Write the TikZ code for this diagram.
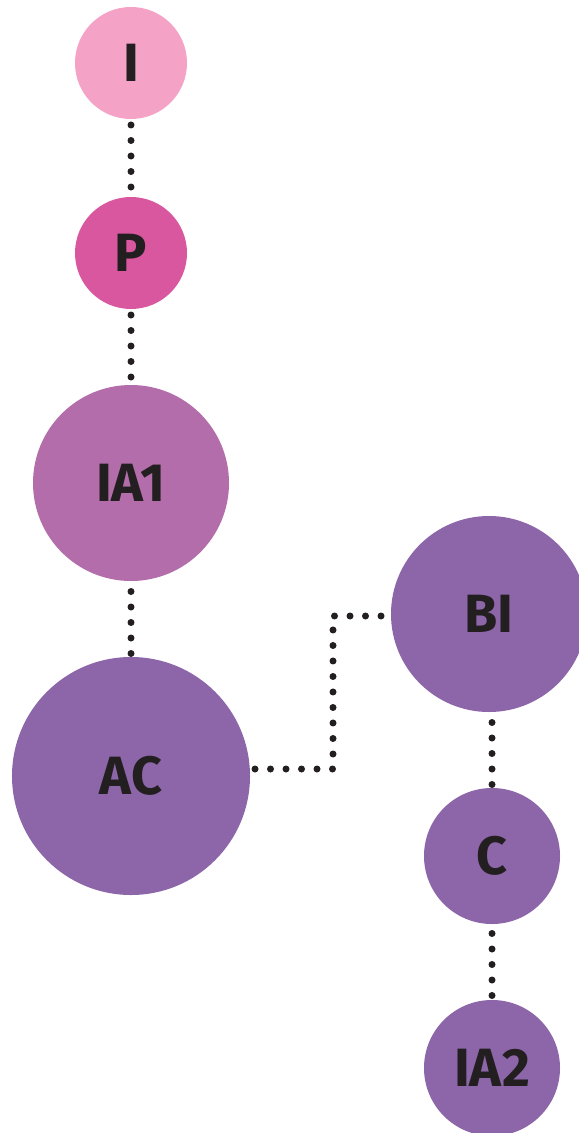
\documentclass[tikz,border=0pt]{standalone}
\usepackage{fontspec}
\setmainfont{Fira Sans}
\usetikzlibrary{backgrounds}

\definecolor{pinklight}{HTML}{F4A2C6}
\definecolor{pinkdeep}{HTML}{D9579F}
\definecolor{mauve}{HTML}{B36DAA}
\definecolor{violet}{HTML}{8C66A9}
\definecolor{inkdark}{HTML}{231F20}

\tikzset{
  bubble/.style={circle, inner sep=0pt, text=inkdark,
    font=\fontsize{46}{46}\selectfont\bfseries},
  dotline/.style={line width=0.21cm, line cap=round, inkdark,
    dash pattern=on 0pt off 0.465cm}
}

\begin{document}
\begin{tikzpicture}[x=0.03cm, y=-0.03cm]
    % Fix the page size
    \useasboundingbox (0,0) rectangle (578,1133);

    % Define the bubbles
    \node[bubble, fill=pinklight, minimum size=3.36cm] (I) at (131,63) {I};
    \node[bubble, fill=pinkdeep, minimum size=3.36cm] (P) at (131,253) {P};
    \node[bubble, fill=mauve, minimum size=5.88cm] (IA1) at (131,483) {IA1};
    \node[bubble, fill=violet, minimum size=7.14cm] (AC) at (131,776) {AC};
    \node[bubble, fill=violet, minimum size=5.88cm] (BI) at (489,614) {BI};
    \node[bubble, fill=violet, minimum size=4.08cm] (C) at (492,856) {C};
    \node[bubble, fill=violet, minimum size=4.08cm] (IA2) at (492,1068) {IA2};

    % Corners of the side path
    \coordinate (bendlow) at (333,769);
    \coordinate (bendhigh) at (333,616);

    % Draw the dotted links behind the bubbles
    \begin{scope}[on background layer]
        \draw[dotline] (I.center) -- (P.center);
        \draw[dotline] (P.center) -- (IA1.center);
        \draw[dotline] (IA1.center) -- (AC.center);
        \draw[dotline] (AC.center |- bendlow) -- (bendlow) -- (bendhigh) -- (BI.center |- bendhigh);
        \draw[dotline] (BI.center -| C.center) -- (C.center);
        \draw[dotline] (C.center) -- (IA2.center);
    \end{scope}

\end{tikzpicture}
\end{document}
